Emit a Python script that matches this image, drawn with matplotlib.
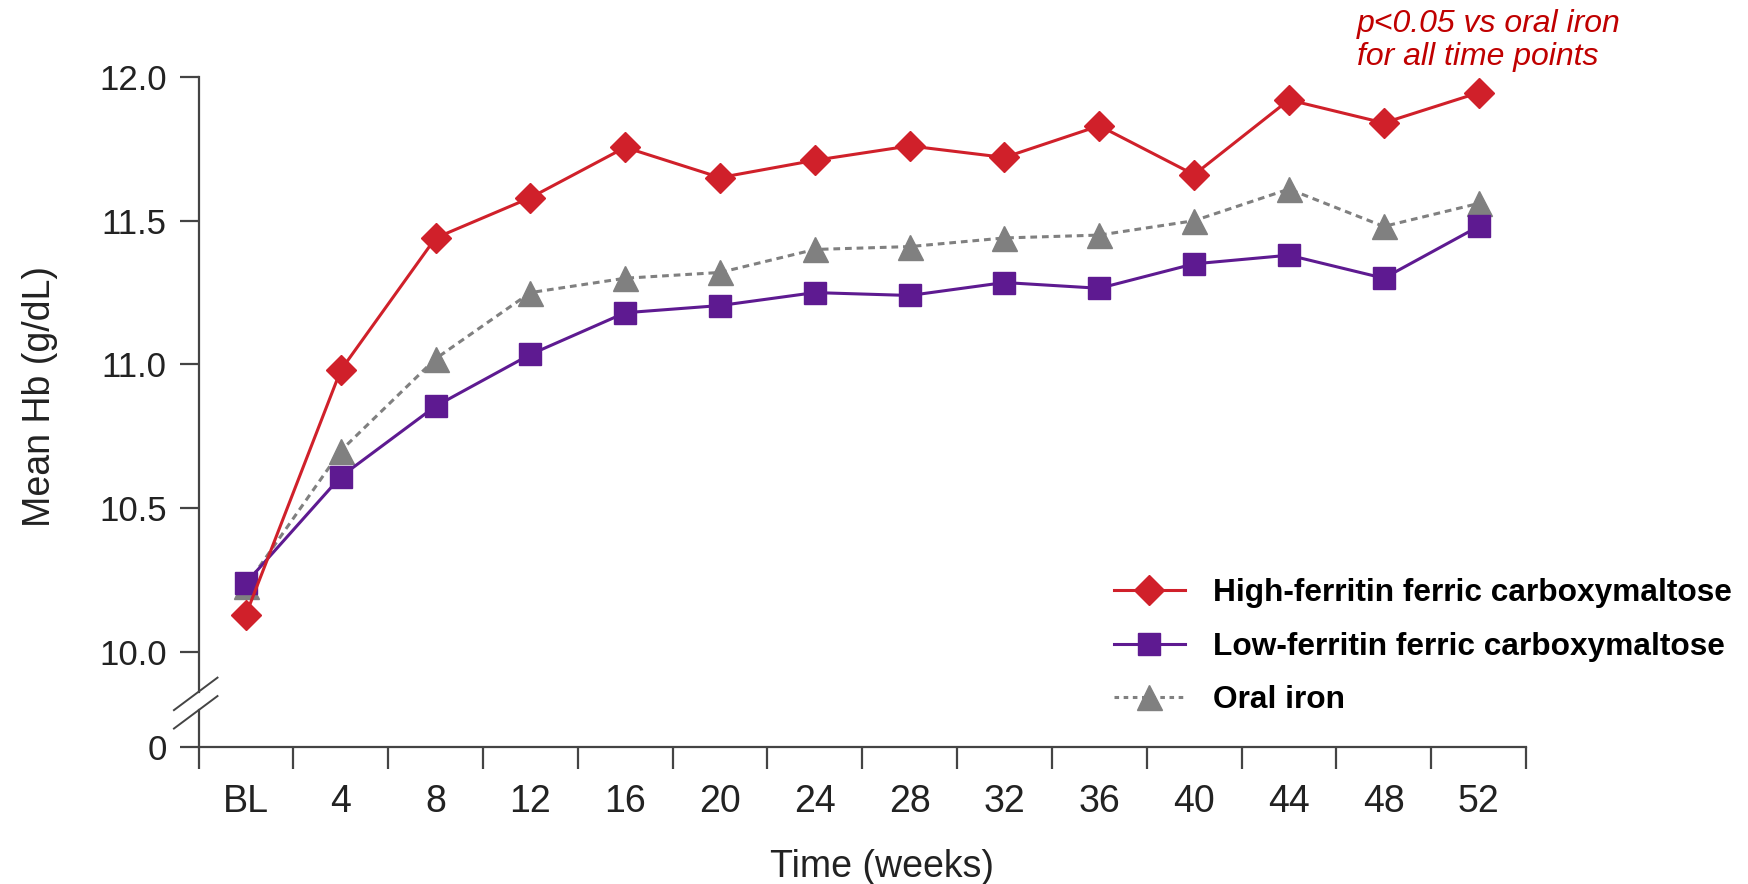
import numpy as np
import matplotlib.pyplot as plt
from matplotlib.lines import Line2D

# ---------------------------------------------------------------------------
# data
weeks = ['BL', '4', '8', '12', '16', '20', '24', '28', '32', '36', '40', '44', '48', '52']
high_fcm = [10.13, 10.98, 11.44, 11.58, 11.755, 11.65, 11.71, 11.76, 11.72, 11.83, 11.66, 11.92, 11.84, 11.945]
low_fcm = [10.24, 10.61, 10.855, 11.035, 11.18, 11.205, 11.25, 11.24, 11.285, 11.265, 11.35, 11.38, 11.30, 11.48]
oral_iron = [10.23, 10.70, 11.02, 11.25, 11.30, 11.32, 11.40, 11.41, 11.44, 11.45, 11.50, 11.61, 11.48, 11.56]
ytick_vals = [10.0, 10.5, 11.0, 11.5, 12.0]

red = '#d0202a'
purple = '#5e1a91'
gray = '#808080'
txt = '#222222'
axc = '#444444'

plt.rcParams['font.family'] = ['Liberation Sans', 'DejaVu Sans']

# ---------------------------------------------------------------------------
fig = plt.figure(figsize=(17.49, 8.84), dpi=100)
ax = fig.add_axes([0.1135, 0.155, 0.759, 0.758])

x = np.arange(len(weeks))
zero_pos = 9.67  # where the "0" sits below the axis break

ax.plot(x, high_fcm, color=red, lw=2.2, marker='D', ms=15, mec=red, mfc=red,
        clip_on=False, zorder=4, label='High-ferritin ferric carboxymaltose')
ax.plot(x, low_fcm, color=purple, lw=2.2, marker='s', ms=16, mec=purple, mfc=purple,
        clip_on=False, zorder=3, label='Low-ferritin ferric carboxymaltose')
ax.plot(x, oral_iron, color=gray, lw=2.2, ls=(0, (2.2, 1.6)), marker='^', ms=18,
        mec=gray, mfc=gray, clip_on=False, zorder=2, label='Oral iron')

ax.set_xlim(-0.5, len(weeks) - 0.5)
ax.set_ylim(zero_pos, 12.0)

# x: ticks at category edges, labels centred under points
ax.set_xticks(np.arange(-0.5, len(weeks), 1.0))
ax.set_xticklabels([])
ax.set_xticks(x, minor=True)
ax.set_xticklabels(weeks, minor=True, fontsize=27, color=txt)
ax.tick_params(axis='x', which='major', direction='out', length=16, width=1.6, color=axc)
ax.tick_params(axis='x', which='minor', length=0, pad=27)

ax.set_yticks([zero_pos] + ytick_vals)
ax.set_yticklabels(['0'] + ['%.1f' % v for v in ytick_vals], fontsize=25, color=txt)
ax.tick_params(axis='y', direction='out', length=14, width=1.6, color=axc, pad=9)

for s in ['top', 'right', 'left']:
    ax.spines[s].set_visible(False)
ax.spines['bottom'].set_linewidth(1.6)
ax.spines['bottom'].set_color(axc)

# left spine drawn in two pieces around the break
tr = ax.transAxes
ax.plot([0, 0], [1, 0.082], transform=tr, color=axc, lw=1.6, clip_on=False)
ax.plot([0, 0], [0.055, 0], transform=tr, color=axc, lw=1.6, clip_on=False)
for y0 in [0.055, 0.0275]:
    ax.plot([-0.0185, 0.0143], [y0, y0 + 0.0485], transform=tr, color=axc, lw=1.4,
            clip_on=False)

ax.set_xlabel('Time (weeks)', fontsize=27, color=txt)
ax.xaxis.set_label_coords(0.515, -0.152)
ax.set_ylabel('Mean Hb (g/dL)', fontsize=27, color=txt)
ax.yaxis.set_label_coords(-0.106, 0.5225)

fig.text(0.776, 0.99, 'p<0.05 vs oral iron\nfor all time points', color='#c00000',
         style='italic', fontsize=23, va='top', ha='left', linespacing=1.15)

handles = [
    Line2D([], [], color=red, lw=2.2, marker='D', ms=15, mec=red, mfc=red),
    Line2D([], [], color=purple, lw=2.2, marker='s', ms=16, mec=purple, mfc=purple),
    Line2D([], [], color=gray, lw=2.2, ls=(0, (1.5, 1.5)), marker='^', ms=18, mec=gray, mfc=gray),
]
labels = ['High-ferritin ferric carboxymaltose', 'Low-ferritin ferric carboxymaltose', 'Oral iron']
fig.legend(handles, labels, loc='upper left', bbox_to_anchor=(0.6205, 0.378),
           frameon=False, prop={'size': 22.8, 'weight': 'bold'}, handlelength=2.25,
           handletextpad=0.88, labelspacing=0.74)

fig.savefig('out.png', dpi=100)
